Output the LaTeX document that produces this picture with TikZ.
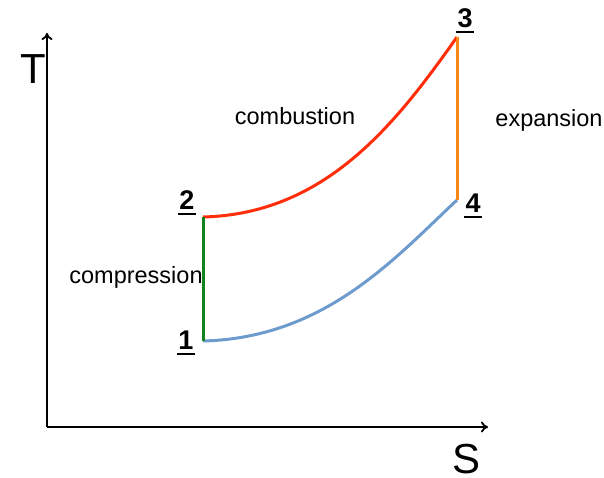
\documentclass[tikz,border=0pt]{standalone}
\usepackage{fontspec}
\setmainfont{Liberation Sans}
\usetikzlibrary{arrows.meta}
\definecolor{cred}{RGB}{255,45,10}
\definecolor{corange}{RGB}{255,135,20}
\definecolor{cgreen}{RGB}{20,130,30}
\definecolor{cblue}{RGB}{110,155,205}
\newcommand{\ulnum}[1]{\makebox[0pt][l]{\hspace{-1.5pt}\rule[-6pt]{18pt}{2.6pt}}#1}
\tikzset{
  axis/.style={line width=1.8pt,-{To[length=7pt,width=11pt]}},
  proc/.style={line width=3pt},
  lbl/.style={font=\fontsize{23.5}{26}\selectfont,inner sep=0pt},
  axlbl/.style={font=\fontsize{42}{44}\selectfont,inner sep=0pt},
  num/.style={font=\fontsize{27}{30}\selectfont\bfseries,inner sep=0pt}
}
\begin{document}
\begin{tikzpicture}[x=1pt,y=-1pt]
\useasboundingbox (0,0) rectangle (604,478);
\coordinate (O) at (47,427);
\coordinate (Ty) at (47,33);
\coordinate (Sx) at (488,427);
\coordinate (p1) at (203,341);
\coordinate (p2) at (203,217);
\coordinate (p3) at (457,37);
\coordinate (p4) at (457,200);
\draw[axis] (O) -- (Ty);
\draw[axis] (O) -- (Sx);
\node[axlbl] (T) at (33,69) {T};
\node[axlbl] (S) at (466,459) {S};
\draw[proc,cred] (p2) .. controls (325,214) and (395,125) .. (p3);
\draw[proc,cblue] (p1) .. controls (325,338) and (395,258) .. (p4);
\draw[proc,cgreen] (p1) -- (p2);
\draw[proc,corange] (p3) -- (p4);
\node[num] (n1) at (186,343) {\ulnum{1}};
\node[num] (n2) at (187,203) {\ulnum{2}};
\node[num] (n3) at (465,21) {\ulnum{3}};
\node[num] (n4) at (473,206) {\ulnum{4}};
\node[lbl] (comb) at (295,116) {combustion};
\node[lbl] (exp) at (549,120) {expansion};
\node[lbl] (comp) at (136,277) {compression};
\end{tikzpicture}
\end{document}
